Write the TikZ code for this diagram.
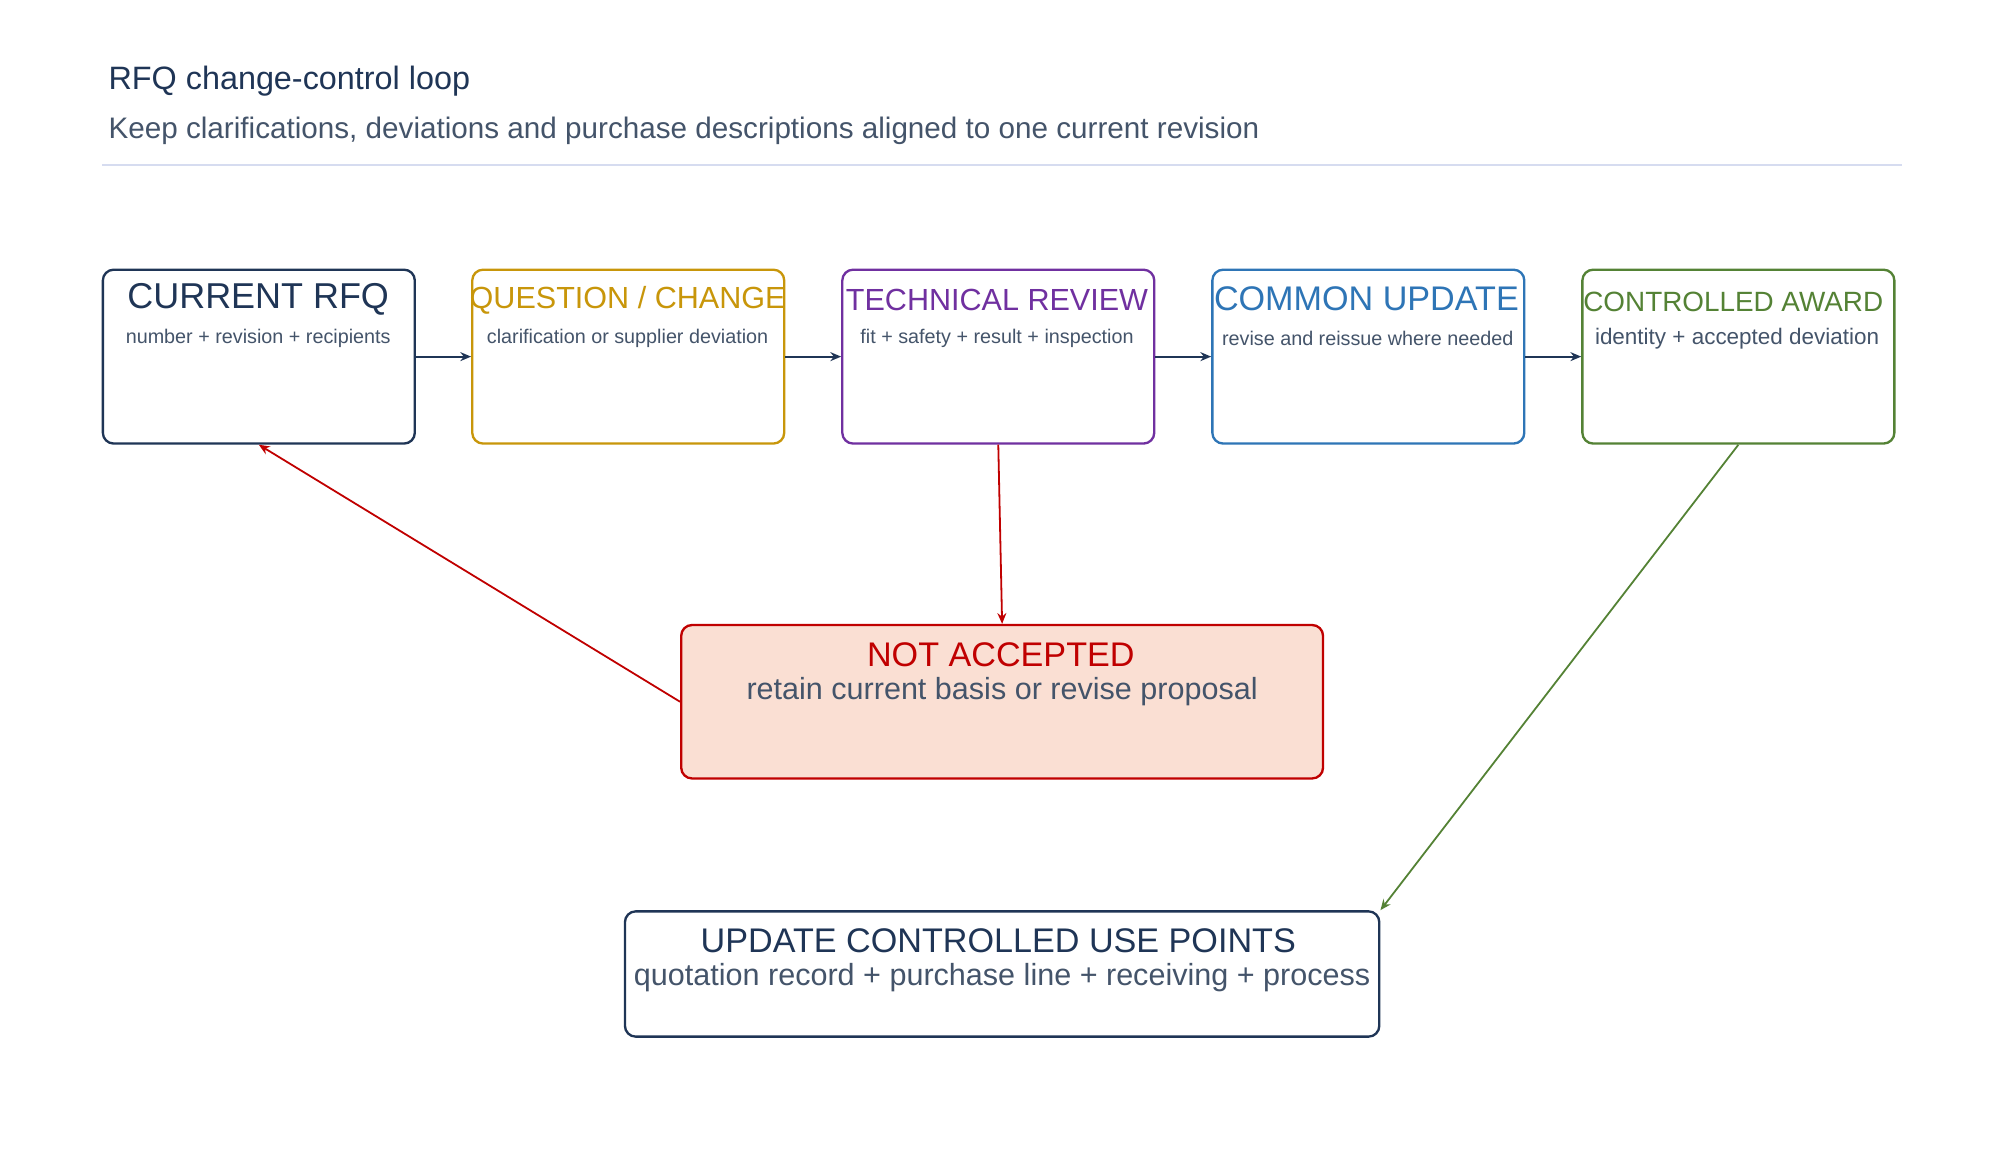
\documentclass[tikz,border=0pt]{standalone}
\usepackage{fontspec}
\setmainfont{Liberation Sans}
\usetikzlibrary{arrows.meta,positioning}
\definecolor{navy}{HTML}{1F3556}
\definecolor{gold}{HTML}{C8960A}
\definecolor{purp}{HTML}{7030A0}
\definecolor{blu}{HTML}{2E75B6}
\definecolor{grn}{HTML}{548235}
\definecolor{redd}{HTML}{C00000}
\definecolor{pink}{HTML}{FADFD3}
\definecolor{slate}{HTML}{44546A}
\definecolor{rule}{HTML}{D6DCF0}

\begin{document}
\begin{tikzpicture}[
    x=0.025cm, y=-0.025cm,
    stage/.style={draw, line width=1.3pt, rounded corners=6pt, minimum width=6.1cm,
        minimum height=3.4cm, fill=white},
    head/.style={font=\fontsize{17}{20}\selectfont},
    sub/.style={font=\fontsize{11}{13}\selectfont, text=slate},
    flow/.style={line width=1.1pt, -{Stealth[length=6pt,width=5pt]}},
    link/.style={line width=1pt, -{Stealth[length=6pt,width=5pt]}}
    ]
    \useasboundingbox (0,0) rectangle (1560,908);
    % title
    \node[anchor=base west, text=navy, font=\fontsize{18}{22}\selectfont] (title) at (80,70)
        {RFQ change-control loop};
    \node[anchor=base west, text=slate, font=\fontsize{16.5}{20}\selectfont] (subtitle) at (80,108)
        {Keep clarifications, deviations and purchase descriptions aligned to one current revision};
    \draw[rule, line width=1.2pt] (80,129) -- (1488,129);
    % stages
    \node[stage, draw=navy] (rfq) at (202.5,279) {};
    \node[stage, draw=gold] (question) at (491.5,279) {};
    \node[stage, draw=purp] (review) at (781,279) {};
    \node[stage, draw=blu] (common) at (1070.5,279) {};
    \node[stage, draw=grn] (award) at (1360,279) {};
    \node[head, text=navy, font=\fontsize{20}{24}\selectfont] (rfqh) at (202,234) {CURRENT RFQ};
    \node[sub] (rfqs) at (202,265) {number + revision + recipients};
    \node[head, text=gold] (questionh) at (491,235) {QUESTION / CHANGE};
    \node[sub] (questions) at (491,265) {clarification or supplier deviation};
    \node[head, text=purp] (reviewh) at (780,235) {TECHNICAL REVIEW};
    \node[sub] (reviews) at (780,265) {fit + safety + result + inspection};
    \node[head, text=blu, font=\fontsize{19}{22}\selectfont] (commonh) at (1069,234) {COMMON UPDATE};
    \node[sub] (commons) at (1070,265) {revise and reissue where needed};
    \node[head, text=grn, font=\fontsize{15.5}{19}\selectfont] (awardh) at (1356,236) {CONTROLLED AWARD};
    \node[sub, font=\fontsize{12.5}{15}\selectfont] (awards) at (1359,265) {identity + accepted deviation};
    % outcomes
    \node[stage, draw=redd, fill=pink, minimum width=12.55cm, minimum height=3cm] (reject) at (784,549) {};
    \node[head, text=redd, font=\fontsize{19}{22}\selectfont] (rejecth) at (783,512) {NOT ACCEPTED};
    \node[sub, font=\fontsize{17}{20}\selectfont] (rejects) at (784,541) {retain current basis or revise proposal};
    \node[stage, draw=navy, minimum width=14.75cm, minimum height=2.45cm] (update) at (784,762) {};
    \node[head, text=navy, font=\fontsize{19}{22}\selectfont] (updateh) at (781,736) {UPDATE CONTROLLED USE POINTS};
    \node[sub, font=\fontsize{17}{20}\selectfont] (updates) at (784,765) {quotation record + purchase line + receiving + process};
    % connectors
    \foreach \a/\b in {rfq/question, question/review, review/common, common/award}
        \draw[flow, navy] (\a) -- (\b);
    \draw[link, redd] (review.south) -- (reject.north);
    \draw[link, redd] (reject.west) -- (rfq.south);
    \draw[link, grn] (award.south) -- (update.north east);
\end{tikzpicture}
\end{document}
